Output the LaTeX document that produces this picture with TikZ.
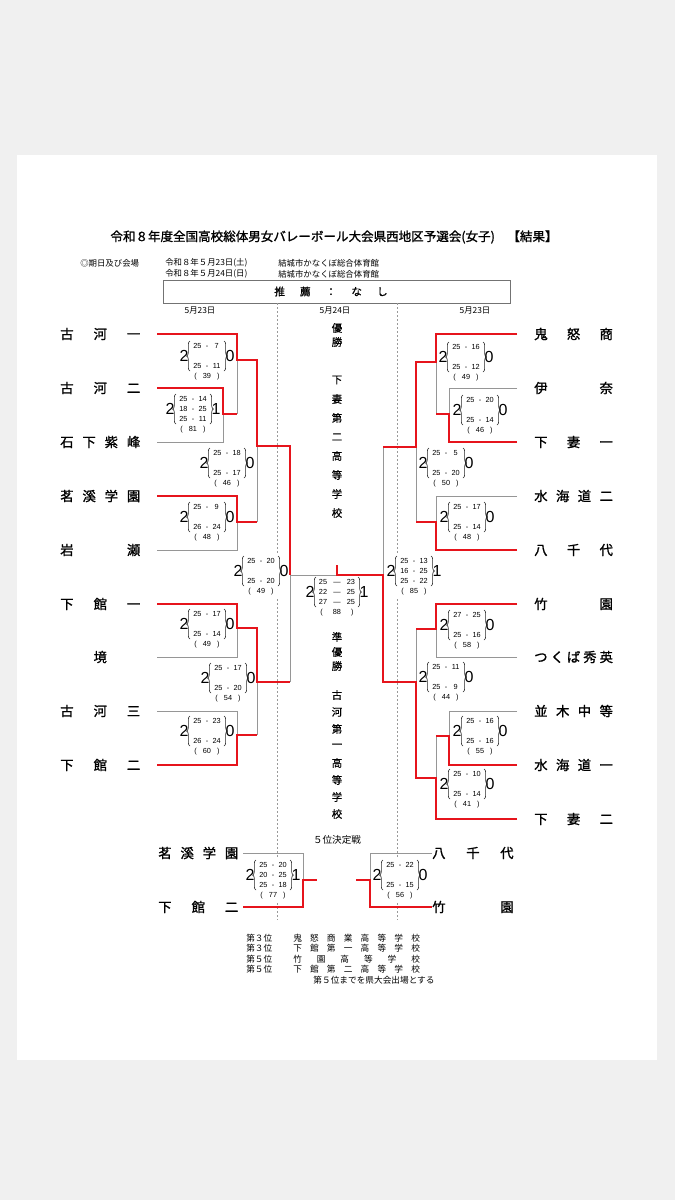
\documentclass[tikz,border=0pt]{standalone}
\usepackage{fontspec}
\setmainfont{Noto Sans CJK JP}
\newfontfamily\numfont{Liberation Sans}
\newfontfamily\heavyf[FakeBold=1.2]{Noto Sans CJK JP}
\newfontfamily\medf[FakeBold=0.6]{Noto Sans CJK JP}
\usetikzlibrary{decorations.pathreplacing}
\definecolor{bred}{RGB}{230,20,28}
\definecolor{lgray}{RGB}{150,150,150}
\definecolor{pagebg}{RGB}{240,240,240}
\def\bw{17}
\def\nw{23}
\def\tw{19pt}
\newcommand\sr[2]{\makebox[6.5pt]{#1}\makebox[8pt]{-}\makebox[6.5pt]{#2}}
\newcommand\srf[2]{\makebox[7pt]{#1}\makebox[14pt]{―}\makebox[7pt]{#2}}
\newcommand\scr[9]{%
  \fill[white] ({#2-\nw-5},{#3-16}) rectangle ({#2+\nw+5},{#3+27});
  \node[bignum] (#1L) at ({#2-\nw},#3) {#4};
  \node[bignum] (#1R) at ({#2+\nw},#3) {#5};
  \node[setnum] (#1a) at (#2,{#3-10}) {#6};
  \node[setnum] (#1b) at (#2,#3) {#7};
  \node[setnum] (#1c) at (#2,{#3+10}) {#8};
  \node[setnum] (#1t) at (#2,{#3+21}) {\makebox[\tw]{(\hfill#9\hfill)}};
  \draw[brc] ({#2-\bw},{#3+15}) -- ({#2-\bw},{#3-15});
  \draw[brc] ({#2+\bw},{#3-15}) -- ({#2+\bw},{#3+15});
}
\tikzset{
  win/.style={draw=bred, line width=1.6pt, line join=miter},
  lose/.style={draw=lgray, line width=0.75pt},
  dashln/.style={draw=gray!80, line width=0.4pt, dash pattern=on 1.5pt off 1.5pt},
  team/.style={font=\heavyf\fontsize{10}{12}\selectfont, inner sep=0pt, anchor=west},
  bignum/.style={font=\numfont\fontsize{12}{14}\selectfont, inner sep=0pt},
  setnum/.style={font=\numfont\fontsize{5.5}{6.5}\selectfont, inner sep=0pt},
  brc/.style={decorate, decoration={brace, amplitude=2.5pt}, draw=black!85, line width=0.45pt},
  hdr/.style={font=\fontsize{6.3}{7.5}\selectfont, inner sep=0pt, anchor=west},
  vtxt/.style={font=\medf\fontsize{7.8}{9}\selectfont, inner sep=0pt},
  res/.style={font=\fontsize{6.5}{7.5}\selectfont, inner sep=0pt},
}
\begin{document}
\begin{tikzpicture}[x=0.75pt,y=-0.75pt]
\useasboundingbox (0,0) rectangle (675,1200);
\fill[pagebg] (0,0) rectangle (675,1200);
\fill[white] (17,155) rectangle (657,1060);

% title and header
\node[font=\heavyf\fontsize{9.4}{11}\selectfont, inner sep=0pt] (title) at (334,237) {令和８年度全国高校総体男女バレーボール大会県西地区予選会(女子)　【結果】};
\node[hdr] (h1) at (80,263) {◎期日及び会場};
\node[hdr] (h2) at (165,263) {令和８年５月23日(土)};
\node[hdr] (h3) at (278,263) {結城市かなくぼ総合体育館};
\node[hdr] (h4) at (165,274) {令和８年５月24日(日)};
\node[hdr] (h5) at (278,274) {結城市かなくぼ総合体育館};
\draw[draw=gray!90!black, line width=0.7pt] (163,280) rectangle (510,303);
\node[font=\medf\fontsize{8}{9}\selectfont, inner sep=0pt] (suisen) at (331,291.5) {\hbox to 85pt{推\hfill 薦\hfill ：\hfill な\hfill し}};
\node[hdr, anchor=center] (d1) at (200,311) {5月23日};
\node[hdr, anchor=center] (d2) at (335,311) {5月24日};
\node[hdr, anchor=center] (d3) at (475,311) {5月23日};

% dashed column lines
\coordinate (dlT) at (277,303); \coordinate (dlB) at (277,920);
\coordinate (drT) at (397,303); \coordinate (drB) at (397,920);
\draw[dashln] (dlT) -- (dlB);
\draw[dashln] (drT) -- (drB);

% left teams
\node[team] (L1) at (60,334) {\hbox to 60pt{古\hfill 河\hfill 一}};
\node[team] (L2) at (60,388) {\hbox to 60pt{古\hfill 河\hfill 二}};
\node[team] (L3) at (60,442) {\hbox to 60pt{石\hfill 下\hfill 紫\hfill 峰}};
\node[team] (L4) at (60,496) {\hbox to 60pt{茗\hfill 溪\hfill 学\hfill 園}};
\node[team] (L5) at (60,550) {\hbox to 60pt{岩\hfill 瀬}};
\node[team] (L6) at (60,604) {\hbox to 60pt{下\hfill 館\hfill 一}};
\node[team] (L7) at (60,657) {\hbox to 60pt{\hfill 境\hfill}};
\node[team] (L8) at (60,711) {\hbox to 60pt{古\hfill 河\hfill 三}};
\node[team] (L9) at (60,765) {\hbox to 60pt{下\hfill 館\hfill 二}};
% right teams
\node[team] (R1) at (534,334) {\hbox to 59pt{鬼\hfill 怒\hfill 商}};
\node[team] (R2) at (534,388) {\hbox to 59pt{伊\hfill 奈}};
\node[team] (R3) at (534,442) {\hbox to 59pt{下\hfill 妻\hfill 一}};
\node[team] (R4) at (534,496) {\hbox to 59pt{水\hfill 海\hfill 道\hfill 二}};
\node[team] (R5) at (534,550) {\hbox to 59pt{八\hfill 千\hfill 代}};
\node[team] (R6) at (534,604) {\hbox to 59pt{竹\hfill 園}};
\node[team] (R7) at (534,657) {\hbox to 59pt{つ\hfill く\hfill ば\hfill 秀\hfill 英}};
\node[team] (R8) at (534,711) {\hbox to 59pt{並\hfill 木\hfill 中\hfill 等}};
\node[team] (R9) at (534,765) {\hbox to 59pt{水\hfill 海\hfill 道\hfill 一}};
\node[team] (R10) at (534,819) {\hbox to 59pt{下\hfill 妻\hfill 二}};

% middle column texts
\foreach \c/\yy [count=\i] in {優/328,勝/342,下/380,妻/399,第/418,二/437,高/456,等/475,学/494,校/513}
  \node[vtxt] (vt\i) at (337,\yy) {\c};
\foreach \c/\yy [count=\i] in {準/637,優/652,勝/666,古/695,河/712,第/729,一/746,高/763,等/780,学/797,校/814}
  \node[vtxt] (vb\i) at (337,\yy) {\c};

% scores
\scr{m1}{207}{356}{2}{0}{\sr{25}{7}}{}{\sr{25}{11}}{39}
\scr{m2}{193}{409}{2}{1}{\sr{25}{14}}{\sr{18}{25}}{\sr{25}{11}}{81}
\scr{m3}{227}{463}{2}{0}{\sr{25}{18}}{}{\sr{25}{17}}{46}
\scr{m4}{207}{517}{2}{0}{\sr{25}{9}}{}{\sr{26}{24}}{48}
\scr{m5}{261}{571}{2}{0}{\sr{25}{20}}{}{\sr{25}{20}}{49}
\scr{m6}{207}{624}{2}{0}{\sr{25}{17}}{}{\sr{25}{14}}{49}
\scr{m7}{228}{678}{2}{0}{\sr{25}{17}}{}{\sr{25}{20}}{54}
\scr{m8}{207}{731}{2}{0}{\sr{25}{23}}{}{\sr{26}{24}}{60}
\scr{r1}{466}{357}{2}{0}{\sr{25}{16}}{}{\sr{25}{12}}{49}
\scr{r2}{480}{410}{2}{0}{\sr{25}{20}}{}{\sr{25}{14}}{46}
\scr{r3}{446}{463}{2}{0}{\sr{25}{5}}{}{\sr{25}{20}}{50}
\scr{r4}{467}{517}{2}{0}{\sr{25}{17}}{}{\sr{25}{14}}{48}
\scr{r5}{414}{571}{2}{1}{\sr{25}{13}}{\sr{16}{25}}{\sr{25}{22}}{85}
\scr{r6}{467}{625}{2}{0}{\sr{27}{25}}{}{\sr{25}{16}}{58}
\scr{r7}{446}{677}{2}{0}{\sr{25}{11}}{}{\sr{25}{9}}{44}
\scr{r8}{480}{731}{2}{0}{\sr{25}{16}}{}{\sr{25}{16}}{55}
\scr{r9}{467}{784}{2}{0}{\sr{25}{10}}{}{\sr{25}{14}}{41}
\scr{f1}{273}{875}{2}{1}{\sr{25}{20}}{\sr{20}{25}}{\sr{25}{18}}{77}
\scr{f2}{400}{875}{2}{0}{\sr{25}{22}}{}{\sr{25}{15}}{56}
\def\bw{21}\def\nw{27}\def\tw{25pt}
\scr{fin}{337}{592}{2}{1}{\srf{25}{23}}{\srf{22}{25}}{\srf{27}{25}}{88}

% team line start coordinates
\coordinate (pL1) at (157,334); \coordinate (pL2) at (157,388); \coordinate (pL3) at (157,442);
\coordinate (pL4) at (157,496); \coordinate (pL5) at (157,550); \coordinate (pL6) at (157,604);
\coordinate (pL7) at (157,657); \coordinate (pL8) at (157,711); \coordinate (pL9) at (157,765);
\coordinate (pR1) at (517,334); \coordinate (pR2) at (517,388); \coordinate (pR3) at (517,442);
\coordinate (pR4) at (517,496); \coordinate (pR5) at (517,550); \coordinate (pR6) at (517,604);
\coordinate (pR7) at (517,657); \coordinate (pR8) at (517,711); \coordinate (pR9) at (517,765);
\coordinate (pR10) at (517,819);

% losing paths (gray)
\draw[lose] (pL3) -- (223,442) -- (223,414);
\draw[lose] (237,414) -- (237,360);
\draw[lose] (pL5) -- (237,550) -- (237,522);
\draw[lose] (257,522) -- (257,446);
\draw[lose] (pL7) -- (237,657) -- (237,628);
\draw[lose] (pL8) -- (237,711) -- (237,735);
\draw[lose] (257,735) -- (257,682);
\draw[lose] (290,682) -- (290,575) -- (337,575);
\draw[lose] (pR2) -- (449,388) -- (449,414);
\draw[lose] (436,414) -- (436,362);
\draw[lose] (pR4) -- (436,496) -- (436,522);
\draw[lose] (416,522) -- (416,447);
\draw[lose] (383,447) -- (383,575);
\draw[lose] (pR7) -- (436,657) -- (436,629);
\draw[lose] (416,629) -- (416,682);
\draw[lose] (pR8) -- (449,711) -- (449,736);
\draw[lose] (436,736) -- (436,778);

% winning paths (red)
\draw[win] (pL1) -- (237,334) -- (237,360) -- (257,360) -- (257,446) -- (290,446) -- (290,575);
\draw[win] (pL2) -- (223,388) -- (223,414) -- (237,414);
\draw[win] (pL4) -- (237,496) -- (237,522) -- (257,522);
\draw[win] (pL6) -- (237,604) -- (237,628) -- (257,628) -- (257,682) -- (290,682);
\draw[win] (pL9) -- (237,765) -- (237,735) -- (257,735);
\draw[win] (pR1) -- (436,334) -- (436,362) -- (416,362) -- (416,447) -- (383,447);
\draw[win] (pR3) -- (449,442) -- (449,414) -- (436,414);
\draw[win] (pR5) -- (436,550) -- (436,522) -- (416,522);
\draw[win] (pR6) -- (436,604) -- (436,629) -- (416,629);
\draw[win] (pR9) -- (449,765) -- (449,736) -- (436,736);
\draw[win] (pR10) -- (436,819) -- (436,778) -- (416,778) -- (416,682) -- (383,682) -- (383,575) -- (337,575) -- (337,565);

% fifth place
\node[font=\fontsize{7.2}{8.5}\selectfont, inner sep=0pt] (godai) at (337,840) {５位決定戦};
\node[team] (F1) at (158,853) {\hbox to 60pt{茗\hfill 溪\hfill 学\hfill 園}};
\node[team] (F2) at (158,907) {\hbox to 60pt{下\hfill 館\hfill 二}};
\node[team] (F3) at (432,853) {\hbox to 61pt{八\hfill 千\hfill 代}};
\node[team] (F4) at (432,907) {\hbox to 61pt{竹\hfill 園}};
\coordinate (pF1) at (243,853); \coordinate (pF2) at (243,907);
\coordinate (pF3) at (432,853); \coordinate (pF4) at (432,907);
\draw[lose] (pF1) -- (303,853) -- (303,880);
\draw[lose] (pF3) -- (370,853) -- (370,880);
\draw[win] (pF2) -- (303,907) -- (303,880) -- (317,880);
\draw[win] (pF4) -- (370,907) -- (370,880) -- (356,880);

% results
\node[res, anchor=west] (p1) at (246,938) {第３位};
\node[res, anchor=west] (p2) at (246,948.5) {第３位};
\node[res, anchor=west] (p3) at (246,959) {第５位};
\node[res, anchor=west] (p4) at (246,969.5) {第５位};
\node[res, anchor=west] (n1) at (293,938) {\hbox to 95pt{鬼\hfill 怒\hfill 商\hfill 業\hfill 高\hfill 等\hfill 学\hfill 校}};
\node[res, anchor=west] (n2) at (293,948.5) {\hbox to 95pt{下\hfill 館\hfill 第\hfill 一\hfill 高\hfill 等\hfill 学\hfill 校}};
\node[res, anchor=west] (n3) at (293,959) {\hbox to 95pt{竹\hfill 園\hfill 高\hfill 等\hfill 学\hfill 校}};
\node[res, anchor=west] (n4) at (293,969.5) {\hbox to 95pt{下\hfill 館\hfill 第\hfill 二\hfill 高\hfill 等\hfill 学\hfill 校}};
\node[res] (note) at (374,980) {第５位までを県大会出場とする};
\end{tikzpicture}
\end{document}
